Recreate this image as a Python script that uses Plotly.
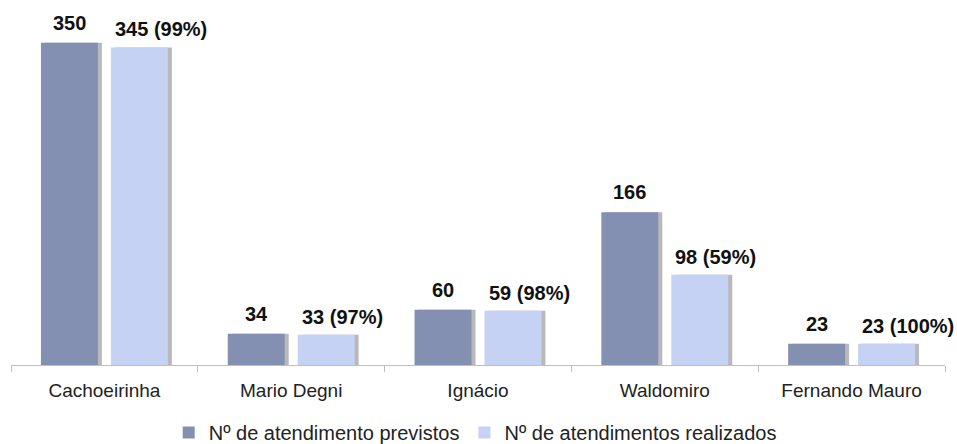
import plotly.graph_objects as go

categories = ["Cachoeirinha", "Mario Degni", "Ignácio", "Waldomiro", "Fernando Mauro"]
previstos = [350, 34, 60, 166, 23]
realizados = [345, 33, 59, 98, 23]
series_names = ["Nº de atendimento previstos", "Nº de atendimentos realizados"]

pct = [round(r / p * 100) for r, p in zip(realizados, previstos)]
real_labels = [f"{r} ({q}%)" for r, q in zip(realizados, pct)]
prev_labels = [str(p) for p in previstos]

font_family = "Liberation Sans, Arial, sans-serif"
W, H = 957, 444
ML, MR, MT, MB = 11, 12, 18, 79
cat_px = (W - ML - MR) / len(categories)
bargap, bargroupgap = 0.251, 0.186
slot_px = cat_px * (1 - bargap) / 2
shadow_shift = 4 / cat_px  # shadow offset (category units)

fig = go.Figure()
# soft shadows (drawn on the base axis, underneath)
for vals in (previstos, realizados):
    fig.add_trace(go.Bar(
        x=categories, y=vals, xaxis="x", yaxis="y", showlegend=False, hoverinfo="skip",
        marker=dict(color="rgba(70,70,70,0.38)", line=dict(width=0)),
    ))
# real bars (overlay axis, on top)
fig.add_trace(go.Bar(
    x=categories, y=previstos, name=series_names[0], xaxis="x2", yaxis="y",
    marker=dict(color="#8490B2", line=dict(width=0)),
))
fig.add_trace(go.Bar(
    x=categories, y=realizados, name=series_names[1], xaxis="x2", yaxis="y",
    marker=dict(color="#C6D2F4", line=dict(width=0)),
))

lab_font = dict(family=font_family, size=20, color="#111111")
for cat, val, lab in zip(categories, previstos, prev_labels):
    fig.add_annotation(
        x=cat, y=val, xref="x2", yref="y", text=f"<b>{lab}</b>",
        showarrow=False, xanchor="center", yanchor="bottom",
        xshift=-slot_px / 2, yshift=7, font=lab_font,
    )
for cat, val, lab in zip(categories, realizados, real_labels):
    fig.add_annotation(
        x=cat, y=val, xref="x2", yref="y", text=f"<b>{lab}</b>",
        showarrow=False, xanchor="left", yanchor="bottom",
        xshift=slot_px * bargroupgap / 2 + 2, yshift=5, font=lab_font,
    )

fig.update_layout(
    width=W, height=H,
    margin=dict(l=ML, r=MR, t=MT, b=MB, autoexpand=False),
    paper_bgcolor="white", plot_bgcolor="white",
    barmode="group", bargap=bargap, bargroupgap=bargroupgap,
    font=dict(family=font_family, size=19, color="#222222"),
    showlegend=True,
    legend=dict(orientation="h", x=0.497, xanchor="center", y=-0.138, yanchor="top",
                font=dict(size=20, color="#222222"), traceorder="normal",
                itemwidth=30),
    xaxis=dict(type="category", range=[-0.5 - shadow_shift, len(categories) - 0.5 - shadow_shift],
               visible=False, showgrid=False),
    xaxis2=dict(type="category", overlaying="x", anchor="y", side="bottom",
                range=[-0.5, len(categories) - 0.5],
                showline=True, linecolor="#BFBFBF", linewidth=1,
                ticks="outside", tickson="boundaries", ticklen=6, tickcolor="#BFBFBF",
                ticklabelstandoff=8, showgrid=False,
                tickfont=dict(size=19, color="#222222")),
    yaxis=dict(visible=False, range=[0, 377], showgrid=False),
)

fig.write_html(
    "out.html",
    config={"responsive": False, "displayModeBar": False},
    post_script="document.body.style.margin='0px';document.body.style.overflow='hidden';",
)
